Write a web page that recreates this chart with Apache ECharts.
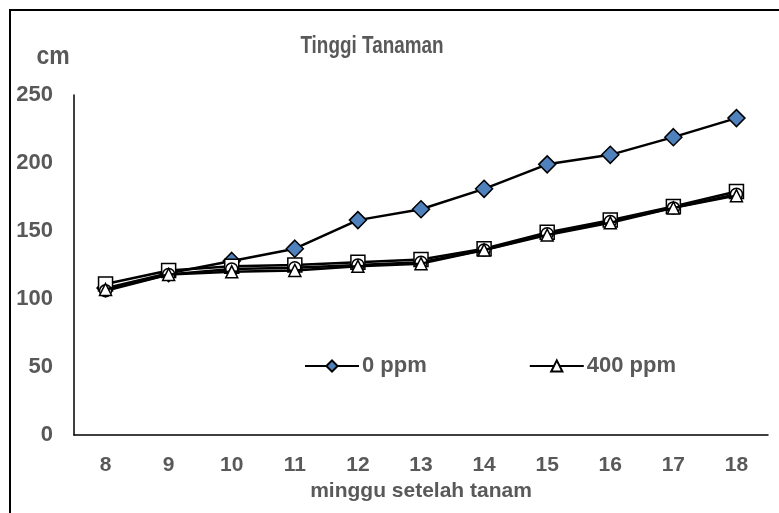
<!DOCTYPE html>
<html>
<head>
<meta charset="utf-8">
<script src="https://cdn.jsdelivr.net/npm/echarts@6/dist/echarts.min.js"></script>
<style>html,body{margin:0;padding:0;background:#fff;}#c{width:779px;height:513px;}</style>
</head>
<body>
<div id="c"></div>
<script>
var categories = ['8','9','10','11','12','13','14','15','16','17','18'];
var ppm0   = [108,119,128,137,158,166,181,199,206,219,233];
var ppm200 = [111,121,124,125,127,129,137,149,158,168,179];
var ppm600 = [106,118,122,123,125,127,136,148,157,167,177];
var ppm400 = [107,118,120,121,124,126,136,147,156,167,176];
var yTicks = [0,50,100,150,200,250];

var FONT = '"Liberation Sans", Arial, sans-serif';
var TXT = '#595959';
var chart = echarts.init(document.getElementById('c'));
function s(name, data, symbol, size, fill, z) {
  return {
    name: name, type: 'line', data: data, symbol: symbol, symbolSize: size,
    lineStyle: {color: '#000', width: 2.5},
    itemStyle: {color: fill, borderColor: '#000', borderWidth: 1.5},
    z: z, animation: false
  };
}
chart.setOption({
  animation: false,
  grid: {left: 74, right: 11, top: 95, bottom: 78},
  legend: {
    left: 299, top: 350, itemWidth: 54, itemHeight: 14, itemGap: 102,
    data: ['0 ppm', '400 ppm'],
    textStyle: {fontFamily: FONT, fontSize: 22, fontWeight: 'bold', color: TXT, padding: [0,0,0,-2]}
  },
  graphic: [
    {type: 'rect', shape: {x: 10, y: 10, width: 900, height: 700}, style: {fill: 'none', stroke: '#000', lineWidth: 2}, silent: true},
    {type: 'text', x: 372, y: 47, scaleX: 0.9, scaleY: 1.1,
      style: {text: 'Tinggi Tanaman', fontFamily: FONT, fontSize: 21, fontWeight: 'bold', fill: TXT, align: 'center', verticalAlign: 'middle'}},
    {type: 'text', x: 53, y: 57, scaleY: 1.1,
      style: {text: 'cm', fontFamily: FONT, fontSize: 23, fontWeight: 'bold', fill: TXT, align: 'center', verticalAlign: 'middle'}}
  ],
  xAxis: {
    type: 'category', data: categories, boundaryGap: true,
    name: 'minggu setelah tanam', nameLocation: 'middle', nameGap: 44,
    nameTextStyle: {fontFamily: FONT, fontSize: 21, fontWeight: 'bold', color: TXT},
    axisLine: {lineStyle: {color: '#000', width: 1.5}},
    axisTick: {show: false},
    axisLabel: {fontFamily: FONT, fontSize: 21, fontWeight: 'bold', color: TXT, margin: 20}
  },
  yAxis: {
    type: 'value', min: yTicks[0], max: yTicks[yTicks.length-1], interval: 50,
    axisLine: {show: true, lineStyle: {color: '#000', width: 1.5}},
    axisTick: {show: false},
    splitLine: {show: false},
    axisLabel: {fontFamily: FONT, fontSize: 22, fontWeight: 'bold', color: TXT, margin: 21}
  },
  series: [
    s('0 ppm', ppm0, 'diamond', 17, '#4F81BD', 2),
    s('200 ppm', ppm200, 'rect', 14, '#fff', 3),
    s('600 ppm', ppm600, 'circle', 12, '#fff', 4),
    s('400 ppm', ppm400, 'triangle', 12, '#fff', 5)
  ]
});
</script>
</body>
</html>
